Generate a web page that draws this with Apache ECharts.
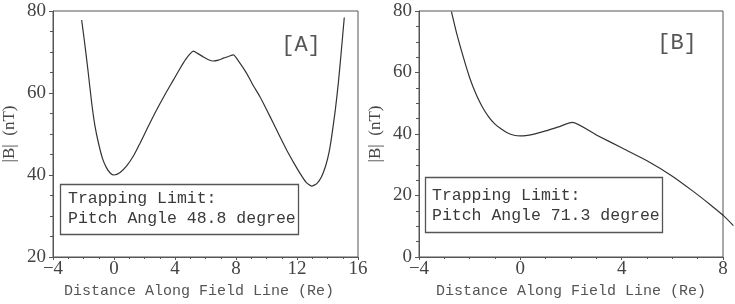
<!DOCTYPE html>
<html><head><meta charset="utf-8">
<script src="https://cdn.jsdelivr.net/npm/echarts@6/dist/echarts.min.js"></script>
<style>html,body{margin:0;padding:0;background:#fff}#c{width:735px;height:304px}</style>
</head><body><div id="c"></div>
<script>
// Panel A: |B| along field line
const xA = [-2.12,-1.9,-1.7,-1.46,-1.25,-1.0,-0.75,-0.5,-0.25,0,0.4,0.83,1.3,1.7,2.2,2.8,3.4,3.9,4.3,4.7,5.0,5.2,5.5,5.86,6.2,6.51,6.85,7.17,7.5,7.82,8.2,8.7,9.1,9.57,10.0,10.45,10.9,11.32,11.8,12.2,12.6,12.96,13.3,13.6,13.9,14.1,14.27,14.5,14.71,14.9,15.1];
const yA = [77.8,71.5,65.3,57.5,52.0,47.5,44.0,41.8,40.5,40.0,40.6,42.2,44.8,47.7,51.5,55.9,60.0,63.2,65.8,68.2,69.6,70.2,69.6,68.8,68.1,67.8,68.0,68.5,68.9,69.3,67.6,64.8,62.0,59.1,56.0,52.6,49.2,46.1,42.9,40.4,38.2,37.3,37.9,39.5,42.5,45.5,49.3,55.5,62.4,70.0,78.4];
// Panel B
const xB = [-2.72,-2.5,-2.25,-2.0,-1.75,-1.5,-1.25,-1.0,-0.75,-0.5,-0.25,0,0.5,1.0,1.5,2.05,3.0,4.0,5.0,6.0,6.8,7.5,8.0];
const yB = [79.8,72.3,65.0,58.3,53.0,48.8,45.6,43.2,41.6,40.3,39.6,39.4,39.9,41.0,42.3,43.8,39.7,35.5,31.3,26.3,21.5,17.0,13.6];
// part of curve B that runs past the right frame of panel B
const xBtail = [7.5,8.0,8.41];
const yBtail = [17.0,13.6,10.2];
const xTicksA = {min:-4,max:16,interval:4};
const yTicksA = {min:20,max:80,interval:20};
const xTicksB = {min:-4,max:8,interval:4};
const yTicksB = {min:0,max:80,interval:20};
const labelsA = ['Trapping Limit:','Pitch Angle 48.8 degree'];
const labelsB = ['Trapping Limit:','Pitch Angle 71.3 degree'];
const xName = 'Distance Along Field Line (Re)';
const yName = '|B|  (nT)';

const ax = '#555';
const lblFont = {fontFamily:'Liberation Serif',fontSize:19,color:'#444'};
function mkX(idx, t, pad){
  return {gridIndex:idx,type:'value',min:t.min,max:t.max,interval:t.interval,
    axisLine:{show:true,onZero:false,lineStyle:{color:ax,width:1}},
    axisTick:{show:true,inside:false,length:3,lineStyle:{color:ax}},
    minorTick:{show:true,splitNumber:4,length:2,lineStyle:{color:ax}},
    splitLine:{show:false},
    axisLabel:Object.assign({margin:3,formatter:v=>String(v).replace('-','\u2212')},lblFont),
    name:xName,nameLocation:'middle',nameGap:27,
    nameTextStyle:{fontFamily:'Liberation Mono',fontSize:15,color:'#555',padding:pad}};
}
function mkY(idx, t, gap){
  return {gridIndex:idx,type:'value',min:t.min,max:t.max,interval:t.interval,
    axisLine:{show:true,onZero:false,lineStyle:{color:ax,width:1}},
    axisTick:{show:true,inside:false,length:4,lineStyle:{color:ax}},
    minorTick:{show:true,splitNumber:4,length:3,lineStyle:{color:ax}},
    splitLine:{show:false},
    axisLabel:Object.assign({margin:7},lblFont),
    name:yName,nameLocation:'middle',nameGap:gap,
    nameTextStyle:{fontFamily:'Liberation Serif',fontSize:17,color:'#444'}};
}
function box(x,y,w,h,lines,tx,ty){
  return [{type:'rect',shape:{x:x,y:y,width:w,height:h},style:{fill:'#fff',stroke:'#555',lineWidth:1.3},z:10},
    {type:'text',x:tx,y:ty,style:{text:lines.join('\n'),font:'16.5px "Liberation Mono"',fill:'#3a3a3a',lineHeight:20,verticalAlign:'top'},z:11}];
}
// grid B spans 304px for 12 units; tail grid sits right of it with the same scale
const pxPerUnitB = (723-419)/(xTicksB.max-xTicksB.min);
const tailMax = xTicksB.max + 12/pxPerUnitB;
const chart = echarts.init(document.getElementById('c'),null,{renderer:'canvas'});
chart.setOption({
  animation:false,
  grid:[
    {left:53,right:377,top:11,bottom:47,show:true,borderColor:ax,borderWidth:1,backgroundColor:'transparent'},
    {left:419,right:12,top:11,bottom:47,show:true,borderColor:ax,borderWidth:1,backgroundColor:'transparent'},
    {left:723,right:0,top:11,bottom:47,show:false}
  ],
  xAxis:[mkX(0,xTicksA,[0,13,0,0]),mkX(1,xTicksB,[0,0,0,0]),
    {gridIndex:2,type:'value',min:xTicksB.max,max:tailMax,show:false}],
  yAxis:[mkY(0,yTicksA,35),mkY(1,yTicksB,35),
    {gridIndex:2,type:'value',min:yTicksB.min,max:yTicksB.max,show:false}],
  series:[
    {type:'line',xAxisIndex:0,yAxisIndex:0,data:xA.map((x,i)=>[x,yA[i]]),showSymbol:false,smooth:0.2,
      lineStyle:{color:'#333',width:1.2},z:5},
    {type:'line',xAxisIndex:1,yAxisIndex:1,data:xB.map((x,i)=>[x,yB[i]]),showSymbol:false,smooth:0.2,
      lineStyle:{color:'#333',width:1.2},z:5},
    {type:'line',xAxisIndex:2,yAxisIndex:2,data:xBtail.map((x,i)=>[x,yBtail[i]]),showSymbol:false,smooth:0.2,
      lineStyle:{color:'#333',width:1.2},z:5}
  ],
  graphic:[
    ...box(60.5,184.5,238,50,labelsA,68,189),
    ...box(425.5,177.5,237,55,labelsB,432,186),
    {type:'text',x:301,y:45,style:{text:'[A]',font:'22px "Liberation Mono"',fill:'#555',align:'center',verticalAlign:'middle'}},
    {type:'text',x:677,y:43,style:{text:'[B]',font:'22px "Liberation Mono"',fill:'#555',align:'center',verticalAlign:'middle'}}
  ]
});
</script></body></html>
